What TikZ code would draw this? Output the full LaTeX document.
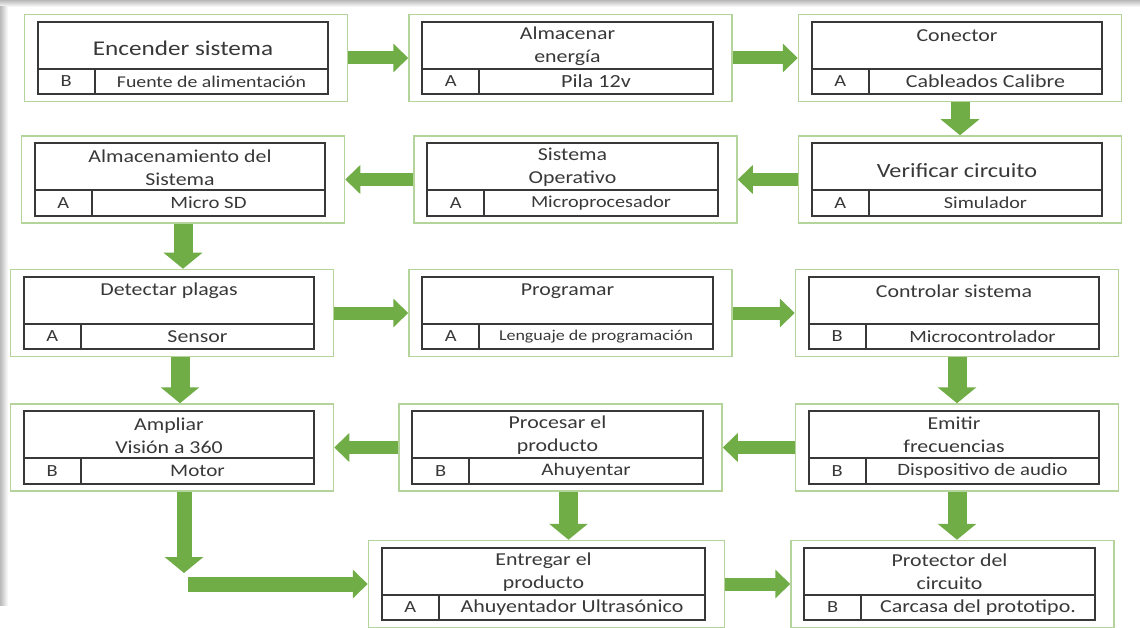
\documentclass[tikz,border=0pt]{standalone}
\usepackage{fontspec}
\setmainfont{Carlito}[FakeStretch=1.2]
\usetikzlibrary{arrows.meta,positioning,calc}
\definecolor{verde}{HTML}{70AD47}
\definecolor{verdeclaro}{HTML}{B4D49C}
\definecolor{tinta}{HTML}{383838}

\begin{document}
\begin{tikzpicture}[x=1pt, y=1pt, node distance=60pt]
    \tikzset{
        caja/.style     =   { rectangle
                            , draw=verdeclaro
                            , line width=1.5pt
                            , minimum width=323pt
                            , minimum height=87pt
                            , inner sep=0pt
        }
        , marco/.style  =   { draw=tinta
                            , line width=1.6pt
        }
        , titulo/.style =   { align=center
                            , text=tinta
        }
        , celda/.style  =   { text=tinta
        }
        , flecha/.style =   { draw=verde
                            , line width=13pt
                            , -{Triangle[length=15pt, width=28pt]}
        }
        , bajar/.style  =   { draw=verde
                            , line width=19pt
                            , -{Triangle[length=16pt, width=38pt]}
        }
    }
    \useasboundingbox (0,0) rectangle (1140,-628);
    \shade[top color=gray!55, bottom color=white] (0,0) rectangle (1140,-7);
    \shade[left color=gray!55, right color=white] (0,-7) rectangle (8,-605);

    \node(b11)[caja] at (186,-58)           {};
    \node(b12)[caja, right=60pt of b11]     {};
    \node(b13)[caja, right=65pt of b12]     {};
    \node(b23)[caja, below=33pt of b13]     {};
    \node(b22)[caja, left=60pt of b23]      {};
    \node(b21)[caja, left=68pt of b22]      {};
    \node(b31)[caja, below=45pt of b21, xshift=-11pt] {};
    \node(b32)[caja, right=74pt of b31]     {};
    \node(b33)[caja, right=62pt of b32]     {};
    \node(b41)[caja, below=46pt of b31]     {};
    \node(b42)[caja, right=64pt of b41]     {};
    \node(b43)[caja, right=72pt of b42]     {};
    \node(b52)[caja, minimum width=356pt, below=48pt of b42, xshift=-14pt] {};
    \node(b53)[caja, right=65pt of b52]     {};

    % nombre / altura / letra del titulo / titulo / tipo / recurso / letra del recurso
    \foreach \n/\ty/\ft/\titulo/\letra/\texto/\fb in {
          b11/-35/21/{Encender sistema}/B/{Fuente de alimentación}/16.5
        , b12/-32/18.2/{Almacenar\\energía}/A/{Pila 12v}/18.5
        , b13/-22/18.2/{Conector}/A/{Cableados Calibre}/18.3
        , b23/-35/20.2/{Verificar circuito}/A/{Simulador}/16.8
        , b22/-32/18.2/{Sistema\\Operativo}/A/{Microprocesador}/16.8
        , b21/-32/18.2/{Almacenamiento del\\Sistema}/A/{Micro SD}/17.3
        , b31/-22/18.2/{Detectar plagas}/A/{Sensor}/18.2
        , b32/-22/18.2/{Programar}/A/{Lenguaje de programación}/15
        , b33/-22/18.2/{Controlar sistema}/B/{Microcontrolador}/17.1
        , b43/-32/18.2/{Emitir\\frecuencias}/B/{Dispositivo de audio}/17.3
        , b42/-32/18.2/{Procesar el\\producto}/B/{Ahuyentar}/17.6
        , b41/-32/18.2/{Ampliar\\Visión a 360}/B/{Motor}/17.6
        , b52/-32/18.2/{Entregar el\\producto}/A/{Ahuyentador Ultrasónico}/18.3
        , b53/-32/18.2/{Protector del\\circuito}/B/{Carcasa del prototipo.}/18.3
    }{
        \draw[marco] ([shift={(14,-8)}]\n.north west) rectangle ([shift={(-20,8)}]\n.south east);
        \draw[marco] ([shift={(14,33.5)}]\n.south west) -- ([shift={(-20,33.5)}]\n.south east);
        \draw[marco] ([shift={(71,8)}]\n.south west) -- ([shift={(71,33.5)}]\n.south west);
        \node(\n-t)[titulo, font=\fontsize{\ft}{23}\selectfont] at ([shift={(-3,\ty)}]\n.north) {\titulo};
        \node(\n-l)[celda, font=\fontsize{17}{20}\selectfont] at ([shift={(42.5,20.75)}]\n.south west) {\letra};
        \node(\n-x)[celda, font=\fontsize{\fb}{20}\selectfont]
            at ($([shift={(71,20.75)}]\n.south west)!0.5!([shift={(-20,20.75)}]\n.south east)$) {\texto};
    }

    \draw[flecha] (b11) -- (b12);
    \draw[flecha] (b12) -- (b13);
    \draw[bajar]  (b13) -- (b23);
    \draw[flecha] (b23) -- (b22);
    \draw[flecha] (b22) -- (b21);
    \draw[bajar]  (b21.south) -- (b21.south |- b31.north);
    \draw[flecha] (b31) -- (b32);
    \draw[flecha] (b32) -- (b33);
    \draw[bajar]  (b33) -- (b43);
    \draw[flecha] (b43) -- (b42);
    \draw[flecha] (b42) -- (b41);
    \draw[bajar]  ([xshift=8pt]b31.south) -- ([xshift=8pt]b41.north);
    \coordinate (esquina) at ([xshift=12pt]b41.south |- b52.west);
    \draw[bajar, line width=15pt] ([xshift=12pt]b41.south) -- ([yshift=11pt]esquina);
    \draw[flecha, line width=15pt] ([xshift=4pt]esquina) -- (b52);
    \draw[bajar]  ([xshift=8pt]b42.south) -- ([xshift=8pt]b42.south |- b52.north);
    \draw[bajar]  (b43.south) -- (b43.south |- b53.north);
    \draw[flecha] (b52) -- (b53);
\end{tikzpicture}
\end{document}
